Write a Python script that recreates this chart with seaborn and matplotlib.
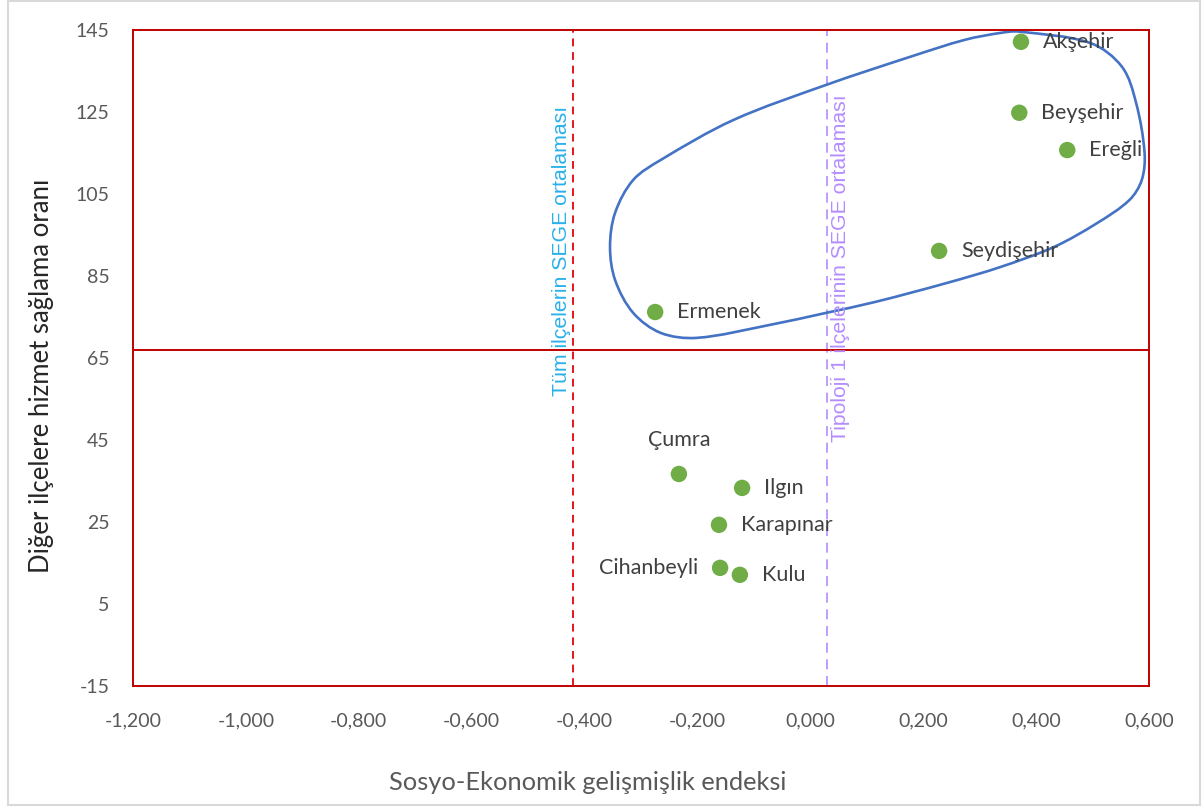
import numpy as np
import pandas as pd
import matplotlib
matplotlib.use("Agg")
import matplotlib.pyplot as plt
from matplotlib.path import Path
from matplotlib.patches import PathPatch, Rectangle
from matplotlib.transforms import IdentityTransform
import seaborn as sns

# İlçe verileri
ilceler = ["Akşehir", "Beyşehir", "Ereğli", "Seydişehir", "Ermenek",
           "Çumra", "Ilgın", "Karapınar", "Cihanbeyli", "Kulu"]
sege = [0.373, 0.370, 0.455, 0.228, -0.275, -0.233, -0.121, -0.162, -0.160, -0.125]
hizmet = [142.1, 124.8, 115.7, 91.1, 76.2, 36.7, 33.3, 24.3, 13.8, 12.1]

# referans çizgileri
tum_ilce_ort = -0.420
tipoloji1_ort = 0.030
hizmet_esik = 67.0

x_ticks = [-1.2, -1.0, -0.8, -0.6, -0.4, -0.2, 0.0, 0.2, 0.4, 0.6]
y_ticks = [-15, 5, 25, 45, 65, 85, 105, 125, 145]

df = pd.DataFrame({"ilce": ilceler, "sege": sege, "hizmet": hizmet})

sns.set_theme(style="white")
plt.rcParams['font.family'] = ['Lato', 'DejaVu Sans']

fig = plt.figure(figsize=(12.04, 8.07), dpi=100)
ax = fig.add_axes([0.1105, 0.150, 0.8439, 0.8129])
ax.set_xlim(-1.2, 0.6)
ax.set_ylim(-15, 145)

# dış çerçeve
fig.patches.append(Rectangle((0.0066, 0.0025), 0.99, 0.9963, transform=fig.transFigure,
                             fill=False, edgecolor='#D9D9D9', linewidth=1.5))

# grubu çevreleyen eğri (elle çizilmiş şekil)
outline = [
    (0.369, 144.6), (0.496, 141.8), (0.552, 136.0), (0.577, 127.2), (0.592, 115.0),
    (0.587, 108.4), (0.565, 103.5), (0.508, 97.9), (0.432, 92.1), (0.337, 87.2),
    (0.242, 83.3), (0.116, 78.7), (0.028, 76.0), (-0.074, 73.0), (-0.201, 69.9),
    (-0.265, 71.1), (-0.314, 76.0), (-0.346, 84.0), (-0.355, 92.1), (-0.346, 100.4),
    (-0.314, 108.4), (-0.265, 113.3), (-0.137, 123.0), (0.028, 131.6), (0.178, 138.5),
    (0.274, 142.6), (0.338, 144.3),
]
P = ax.transData.transform(np.array(outline))
n = len(P)
d = np.linalg.norm(np.roll(P, -1, axis=0) - P, axis=1)  # segment i -> i+1
m = np.array([(P[(i + 1) % n] - P[i - 1]) / (d[i - 1] + d[i]) for i in range(n)])
verts = [P[0]]
codes = [Path.MOVETO]
for i in range(n):
    j = (i + 1) % n
    verts += [P[i] + m[i] * d[i] / 3, P[j] - m[j] * d[i] / 3, P[j]]
    codes += [Path.CURVE4] * 3
ax.add_patch(PathPatch(Path(verts, codes), fill=False, edgecolor='#4472C4', linewidth=1.9,
                       transform=IdentityTransform(), zorder=2, clip_on=False))

# ortalama çizgileri
ax.axvline(tum_ilce_ort, color='#E8141B', linestyle=(0, (4, 3)), linewidth=1.4, zorder=1)
ax.axvline(tipoloji1_ort, color='#B48CFF', linestyle=(0, (6, 4)), linewidth=1.2, zorder=1)
ax.axhline(hizmet_esik, color='#C00000', linewidth=1.4, zorder=1)

ax.text(tum_ilce_ort - 0.021, 91.0, "Tüm ilçelerin SEGE ortalaması", rotation=90,
        ha='center', va='center', color='#29B0EA', fontsize=15.3,
        family=['Liberation Sans', 'DejaVu Sans'])
ax.text(tipoloji1_ort + 0.023, 87.0, "Tipoloji 1 ilçelerinin SEGE ortalaması", rotation=90,
        ha='center', va='center', color='#B48CFF', fontsize=15.3,
        family=['Liberation Sans', 'DejaVu Sans'])

sns.scatterplot(data=df, x="sege", y="hizmet", ax=ax, color='#70AD47', s=140,
                edgecolor='none', zorder=3)

# etiketler
label_pos = {"Çumra": ((0, 17), 'center', 'bottom'),
             "Cihanbeyli": ((-16, 0), 'right', 'center')}
for ilce, x, y in zip(ilceler, sege, hizmet):
    off, ha, va = label_pos.get(ilce, ((16, 0), 'left', 'center'))
    ax.annotate(ilce, (x, y), xytext=off, textcoords='offset points',
                ha=ha, va=va, fontsize=15.5, color='#404040', zorder=4)

ax.set_xticks(x_ticks)
ax.set_yticks(y_ticks)
ax.set_xticklabels([f"{v:.3f}".replace('.', ',') for v in x_ticks])
ax.set_yticklabels([str(v) for v in y_ticks])
ax.tick_params(axis='both', length=0, labelsize=14, labelcolor='#595959')
ax.tick_params(axis='x', pad=19)
ax.tick_params(axis='y', pad=17)

for sp in ax.spines.values():
    sp.set_color('#C00000')
    sp.set_linewidth(1.4)

ax.set_xlabel("Sosyo-Ekonomik gelişmişlik endeksi", fontsize=18.3, color='#595959')
ax.set_ylabel("Diğer ilçelere hizmet sağlama oranı", fontsize=18.5, color='#262626')
ax.xaxis.set_label_coords(0.447, -0.13)
ax.yaxis.set_label_coords(-0.078, 0.473)

fig.savefig("out.png", dpi=100)
